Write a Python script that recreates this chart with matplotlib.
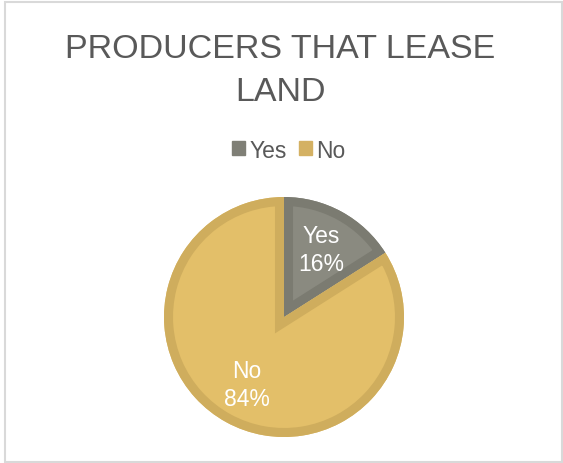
import matplotlib.pyplot as plt
from matplotlib.patches import Patch, Rectangle, Wedge

labels = ["Yes", "No"]
shares = [16, 84]
fill_colors = ["#8a8a80", "#e3bf69"]
edge_colors = ["#7b7b71", "#cfad5d"]

plt.rcParams['font.family'] = ['Liberation Sans', 'DejaVu Sans']

W, H = 563, 464
fig = plt.figure(figsize=(W / 100, H / 100), dpi=100)
ax = fig.add_axes([0, 0, 1, 1])

# pie drawn in pixel space so the layout is easy to place
wedges, texts, autotexts = ax.pie(
    shares, colors=fill_colors, startangle=90, counterclock=False,
    center=(284, H - 318), radius=120, autopct=lambda p: f"{p:.0f}%",
    pctdistance=0.64, textprops=dict(color="white", fontsize=16.5))

# darker band along the inside of each slice: thick outline clipped to the slice
for w, ec in zip(wedges, edge_colors):
    band = Wedge(w.center, w.r, w.theta1, w.theta2, facecolor="none",
                 edgecolor=ec, linewidth=13, zorder=w.get_zorder() + 0.1)
    ax.add_patch(band)
    band.set_clip_path(w)

for t, lab in zip(autotexts, labels):
    t.set_text(f"{lab}\n{t.get_text()}")
    t.set_linespacing(1.25)
    t.set_zorder(5)

ax.set_xlim(0, W)
ax.set_ylim(0, H)
ax.set_aspect("equal")
ax.axis("off")

fig.text(280 / W, 1 - 71 / H, "PRODUCERS THAT LEASE\nLAND", ha="center", va="center",
         fontsize=24.5, color="#595959", linespacing=1.5)

handles = [Patch(facecolor=c, edgecolor=c) for c in ["#7f7f76", "#d4b163"]]
fig.legend(handles, labels, loc="center", bbox_to_anchor=(289 / W, 1 - 151 / H),
           ncol=2, frameon=False, fontsize=16.5, handlelength=0.55, handleheight=0.55,
           handletextpad=0.2, columnspacing=0.55, labelcolor="#595959")

# light chart-area border
fig.add_artist(Rectangle((4.5, 1), 557, 460, transform=None, fill=False,
                         edgecolor="#d9d9d9", linewidth=1.5))

fig.savefig("out.png", dpi=100)
